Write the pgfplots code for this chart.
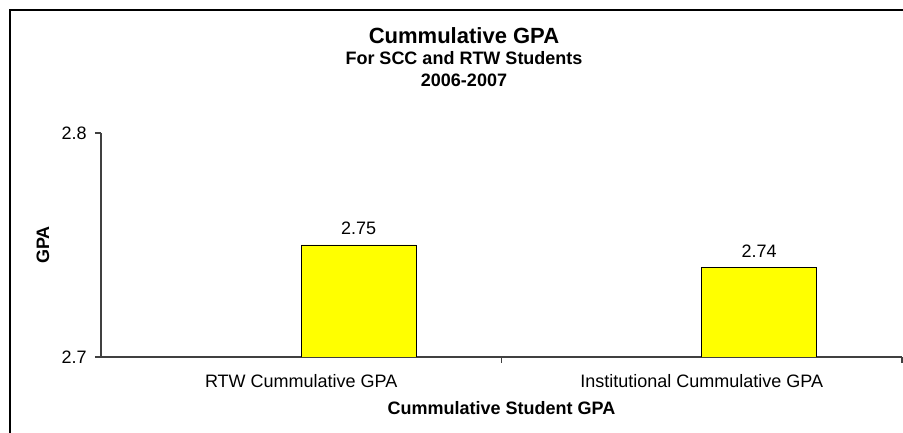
\documentclass[border=0pt]{standalone}
\usepackage{pgfplots}
\pgfplotsset{compat=1.18}
\usepackage{fontspec}
\setmainfont{Liberation Sans}
\definecolor{axisgray}{RGB}{64,64,64}
\definecolor{baryellow}{RGB}{255,255,0}
\begin{document}
\begin{tikzpicture}
\path[use as bounding box] (0,0) rectangle (677.25pt,324pt);
\begin{scope}
\clip (0,0) rectangle (677.25pt,324pt);
\draw[line width=1.5pt] (7.5pt,-7.5pt) rectangle (682.5pt,316.5pt);
\end{scope}
\node[anchor=base,font=\fontsize{16.5}{18}\selectfont\bfseries] at (348pt,291pt) {Cummulative GPA};
\node[anchor=base,font=\fontsize{13.5}{16}\selectfont\bfseries] at (348pt,275.25pt) {For SCC and RTW Students};
\node[anchor=base,font=\fontsize{13.5}{16}\selectfont\bfseries] at (348pt,258.75pt) {2006-2007};
\begin{axis}[
  at={(75.75pt,56.25pt)}, anchor=south west,
  scale only axis, width=600.75pt, height=168pt,
  /pgf/number format/assume math mode=true,
  /pgf/number format/fixed,
  /pgf/number format/precision=2,
  /pgf/number format/zerofill,
  xmin=0, xmax=2, ymin=2.7, ymax=2.8,
  axis lines*=left, axis line style={axisgray,-, line width=0.8pt},
  ybar, bar shift=0pt, bar width=0.287,
  xtick={0.5,1.5},
  xticklabels={RTW Cummulative GPA, Institutional Cummulative GPA},
  minor xtick={1,2},
  major x tick style={draw=none},
  minor x tick style={axisgray, line width=0.8pt},
  minor tick length=4.5pt,
  major tick length=4.5pt,
  y tick style={axisgray, line width=0.8pt},
  tick align=outside,
  ytick={2.7,2.8},
  yticklabels={2.7,2.8},
  ticklabel style={font=\fontsize{13.5}{16}\selectfont},
  xticklabel style={anchor=base, yshift=-18.5pt},
  yticklabel style={anchor=east, inner sep=0pt, xshift=-6pt},
  xlabel={Cummulative Student GPA},
  xlabel style={at={(axis description cs:0.5,0)}, anchor=base, yshift=-43.5pt, font=\fontsize{13.5}{16}\selectfont\bfseries},
  ylabel={GPA},
  ylabel style={at={(axis description cs:0,0.5)}, anchor=center, yshift=43.5pt, font=\fontsize{13.5}{16}\selectfont\bfseries},
  nodes near coords,
  nodes near coords style={font=\fontsize{13.5}{16}\selectfont, yshift=4pt},
]
\addplot[fill=baryellow, draw=black, line width=0.6pt] coordinates {(0.643,2.75) (1.643,2.74)};
\end{axis}
\end{tikzpicture}
\end{document}
